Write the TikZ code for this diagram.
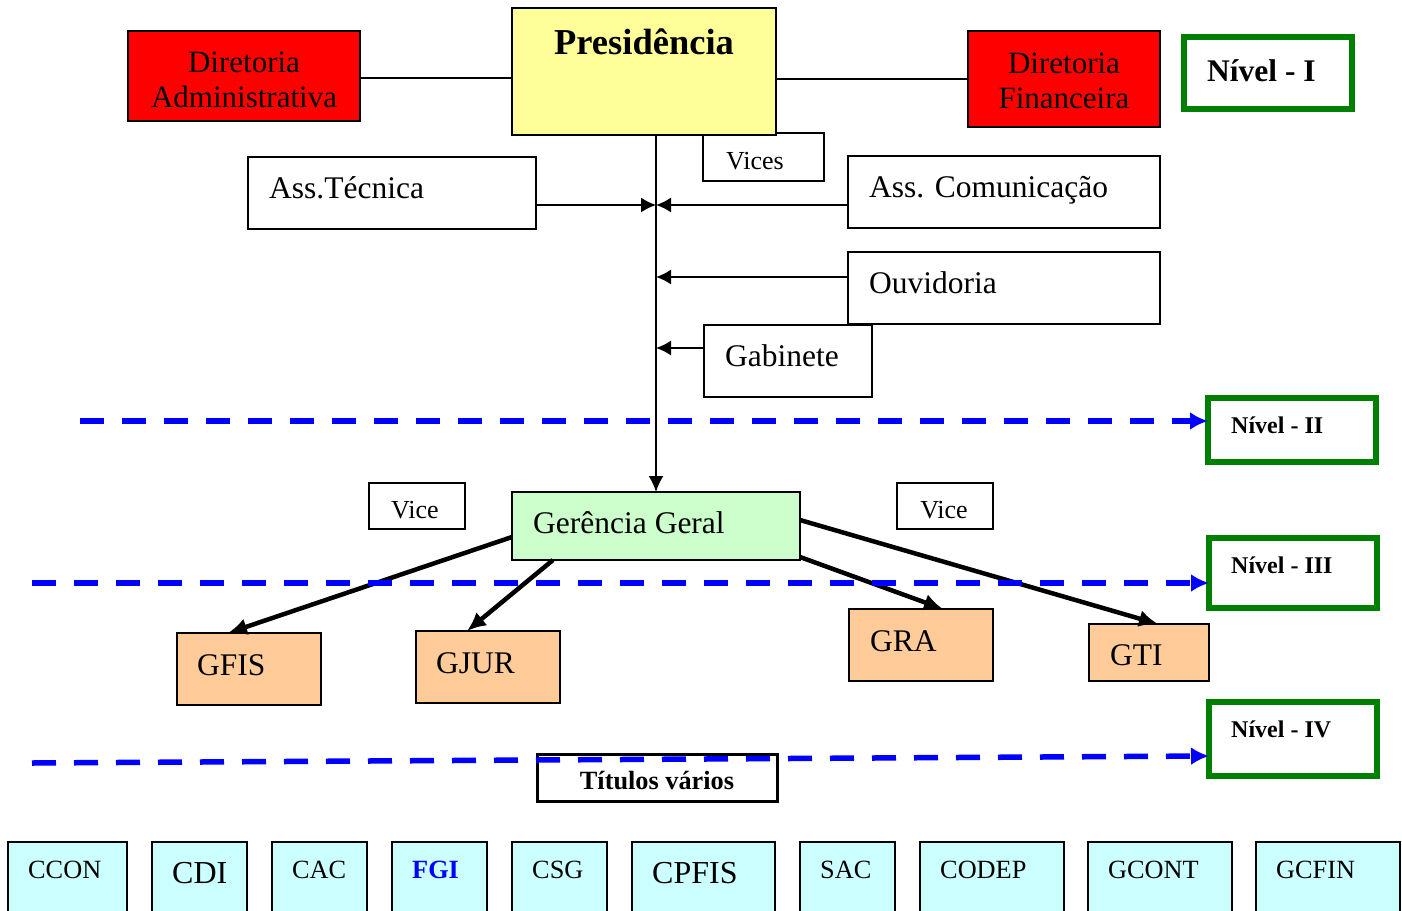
\documentclass[tikz,border=0pt]{standalone}
\usepackage{fontspec}
\setmainfont{Liberation Serif}
\usetikzlibrary{arrows.meta,calc}
\definecolor{dirred}{HTML}{FF0000}
\definecolor{presyellow}{HTML}{FFFF99}
\definecolor{ggreen}{HTML}{CCFFCC}
\definecolor{gorange}{HTML}{FFCC99}
\definecolor{ucyan}{HTML}{CCFFFF}
\definecolor{lvlgreen}{HTML}{008000}
\definecolor{lineblue}{HTML}{0000FF}
% box from corner (x1,y1) to corner (x2,y2)
\newcommand\bx[6]{\node[#6, minimum width={(#4-#2)*1pt}, minimum height={(#5-#3)*1pt}] (#1) at ({(#2+#4)/2},{(#3+#5)/2}) {};}
\begin{document}
\begin{tikzpicture}[x=1pt,y=-1pt,
  box/.style={draw=black, line width=1.8pt, inner sep=0pt, outer sep=0pt},
  lvl/.style={draw=lvlgreen, line width=5.5pt, fill=white, inner sep=0pt, outer sep=0pt},
  txt/.style={inner sep=0pt, anchor=base west, font=\fontsize{31.5}{36}\selectfont},
  txtc/.style={inner sep=0pt, anchor=base, font=\fontsize{31}{36}\selectfont},
  small/.style={inner sep=0pt, anchor=base, font=\fontsize{26}{30}\selectfont},
  unit/.style={inner sep=0pt, anchor=base west, font=\fontsize{26.3}{30}\selectfont},
  unitbig/.style={inner sep=0pt, anchor=base west, font=\fontsize{32}{36}\selectfont},
  lvltxt/.style={inner sep=0pt, anchor=base west, font=\fontsize{24}{28}\selectfont\bfseries},
  link/.style={line width=1.5pt},
  feed/.style={line width=1.6pt, -{Latex[length=15pt,width=15pt]}},
  branch/.style={line width=4.5pt, -{Latex[length=19pt,width=17pt]}},
  levelline/.style={draw=lineblue, line width=5.5pt, dash pattern=on 24pt off 18pt, -{Latex[length=18pt,width=18pt]}},
]
\useasboundingbox (0,0) rectangle (1402,910);

% top level
\bx{vices}{703}{133}{824}{181}{box, fill=white}
\bx{pres}{512}{8}{776}{135}{box, fill=presyellow}
\bx{da}{128}{31}{360}{121}{box, fill=dirred}
\bx{df}{968}{31}{1160}{127}{box, fill=dirred}
\bx{n1}{1184}{37}{1352}{109}{lvl}

% advisory units
\bx{at}{248}{157}{536}{229}{box}
\bx{ac}{848}{156}{1160}{228}{box}
\bx{ouv}{848}{252}{1160}{324}{box}
\bx{gab}{704}{325}{872}{397}{box}
\bx{n2}{1208}{398}{1376}{462}{lvl}

% general management
\bx{vl}{369}{483}{465}{529}{box}
\bx{vr}{897}{483}{993}{529}{box}
\bx{gg}{512}{492}{800}{560}{box, fill=ggreen}
\bx{n3}{1209}{538}{1377}{608}{lvl}

\bx{gfis}{177}{633}{321}{705}{box, fill=gorange}
\bx{gjur}{416}{631}{560}{703}{box, fill=gorange}
\bx{gra}{849}{609}{993}{681}{box, fill=gorange}
\bx{gti}{1089}{624}{1209}{681}{box, fill=gorange}
\bx{n4}{1209}{702}{1377}{776}{lvl}
\bx{tit}{537}{754}{777}{801}{box, line width=3pt, fill=white}

% operational units
\bx{ccon}{8}{842}{127}{925}{box, fill=ucyan}
\bx{cdi}{152}{842}{247}{925}{box, fill=ucyan}
\bx{cac}{272}{842}{367}{925}{box, fill=ucyan}
\bx{fgi}{392}{842}{487}{925}{box, fill=ucyan}
\bx{csg}{512}{842}{607}{925}{box, fill=ucyan}
\bx{cpfis}{632}{842}{775}{925}{box, fill=ucyan}
\bx{sac}{800}{842}{895}{925}{box, fill=ucyan}
\bx{codep}{920}{842}{1064}{925}{box, fill=ucyan}
\bx{gcont}{1088}{842}{1232}{925}{box, fill=ucyan}
\bx{gcfin}{1256}{842}{1400}{925}{box, fill=ucyan}

% labels
\node[inner sep=0pt, anchor=base, font=\fontsize{36.5}{40}\selectfont\bfseries] (presT) at (644,54) {Presidência};
\node[txtc] (daT1) at (244,72) {Diretoria};
\node[txtc] (daT2) at (244,107) {Administrativa};
\node[txtc] (dfT1) at (1064,73) {Diretoria};
\node[txtc] (dfT2) at (1064,108) {Financeira};
\node[inner sep=0pt, anchor=base west, font=\fontsize{31.5}{36}\selectfont\bfseries] (n1T) at (1207,81) {Nível - I};
\node[small] (vicesT) at (755,169) {Vices};
\node[txt] (atT) at (269,198) {Ass.Técnica};
\node[txt] (acT) at (869,197) {Ass. Comunicação};
\node[txt] (ouvT) at (869,293) {Ouvidoria};
\node[txt] (gabT) at (725,366) {Gabinete};
\node[lvltxt] (n2T) at (1231,433) {Nível - II};
\node[small] (vlT) at (415,518) {Vice};
\node[small] (vrT) at (944,518) {Vice};
\node[txt] (ggT) at (533,533) {Gerência Geral};
\node[lvltxt] (n3T) at (1231,573) {Nível - III};
\node[txt] (gfisT) at (197,675) {GFIS};
\node[txt] (gjurT) at (436,673) {GJUR};
\node[txt] (graT) at (870,651) {GRA};
\node[txt] (gtiT) at (1110,665) {GTI};
\node[lvltxt] (n4T) at (1231,737) {Nível - IV};
\node[inner sep=0pt, anchor=base, font=\fontsize{26.3}{30}\selectfont\bfseries] (titT) at (657,789) {Títulos vários};

\node[unit] (cconT) at (28,878) {CCON};
\node[unitbig] (cdiT) at (172,883) {CDI};
\node[unit] (cacT) at (292,878) {CAC};
\node[unit, font=\fontsize{26.3}{30}\selectfont\bfseries, text=lineblue] (fgiT) at (412,878) {FGI};
\node[unit] (csgT) at (532,878) {CSG};
\node[unitbig] (cpfisT) at (652,883) {CPFIS};
\node[unit] (sacT) at (820,878) {SAC};
\node[unit] (codepT) at (940,878) {CODEP};
\node[unit] (gcontT) at (1108,878) {GCONT};
\node[unit] (gcfinT) at (1276,878) {GCFIN};

% connectors
\draw[link] ([yshift=-2pt]da.east) -- ([yshift=-2pt]da.east -| pres.west);
\draw[link] (pres.east |- df.west) -- (df.west);
\draw[line width=1.9pt, -{Latex[length=16pt,width=15pt]}] (pres.south -| gg.north) -- (gg.north);
\draw[feed] ([yshift=-12pt]at.east) -- ([yshift=-12pt]at.east -| gg.north);
\draw[feed] ([yshift=-13pt]ac.west) -- ([yshift=-13pt]ac.west -| gg.north);
\draw[feed] ([yshift=11pt]ouv.west) -- ([yshift=11pt]ouv.west -| gg.north);
\draw[feed] ([yshift=13pt]gab.west) -- ([yshift=13pt]gab.west -| gg.north);

\draw[branch] ([yshift=-11pt]gg.west) -- ([xshift=-21pt]gfis.north);
\draw[branch] ([xshift=-103pt]gg.south) -- ([xshift=-21pt]gjur.north);
\draw[branch] ([yshift=-31pt]gg.east) -- ([xshift=22pt]gra.north);
\draw[branch] ([yshift=6pt]gg.east) -- ([xshift=9pt]gti.north);

% level separators
\coordinate (l2) at (80,421);
\coordinate (l3) at (32,583);
\coordinate (l4) at (32,763);
\draw[levelline] (l2) -- (l2 -| n2.west);
\draw[levelline] (l3) -- (l3 -| n3.west);
\draw[levelline] (l4) -- ([yshift=-17pt]n4.west);
\end{tikzpicture}
\end{document}
